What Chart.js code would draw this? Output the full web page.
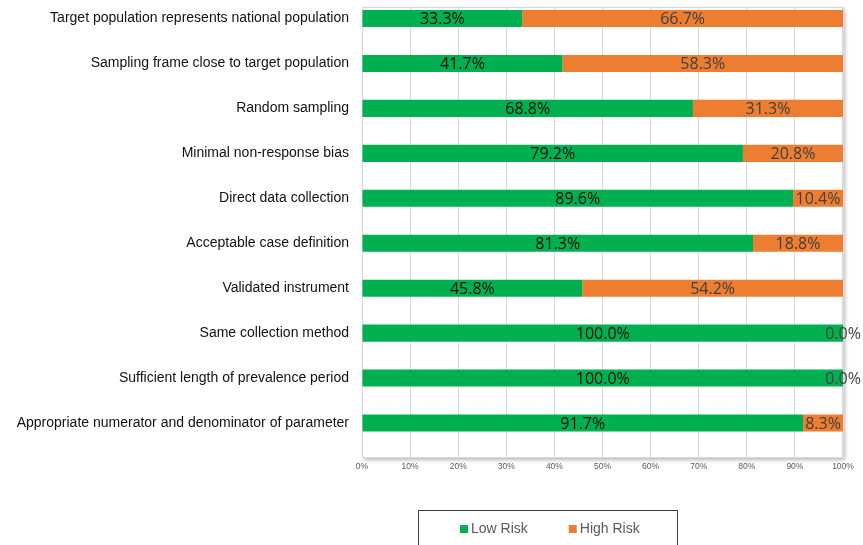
<!DOCTYPE html>
<html>
<head>
<meta charset="utf-8">
<script src="https://cdn.jsdelivr.net/npm/chart.js@4/dist/chart.umd.min.js"></script>
<style>
  html, body { margin: 0; padding: 0; background: #fff; }
  #wrap { width: 863px; height: 545px; }
</style>
</head>
<body>
<div id="wrap"><canvas id="c" width="863" height="545"></canvas></div>
<script>
// Quality criteria assessed across the included studies
const categories = [
  "Target population represents national population",
  "Sampling frame close to target population",
  "Random sampling",
  "Minimal non-response bias",
  "Direct data collection",
  "Acceptable case definition",
  "Validated instrument",
  "Same collection method",
  "Sufficient length of prevalence period",
  "Appropriate numerator and denominator of parameter"
];
// Share of studies (%) rated low / high risk of bias
const lowRisk  = [33.3, 41.7, 68.8, 79.2, 89.6, 81.3, 45.8, 100.0, 100.0, 91.7];
const highRisk = [66.7, 58.3, 31.3, 20.8, 10.4, 18.8, 54.2, 0.0, 0.0, 8.3];
const seriesNames = ["Low Risk", "High Risk"];
const xTickValues = [0, 10, 20, 30, 40, 50, 60, 70, 80, 90, 100];

const GREEN = "#00B050";
const ORANGE = "#ED7D31";

// White plot panel with a soft drop shadow behind the bars
const plotPanel = {
  id: "plotPanel",
  beforeDraw(chart) {
    const { ctx, chartArea: a } = chart;
    ctx.save();
    ctx.shadowColor = "rgba(0,0,0,0.28)";
    ctx.shadowBlur = 4;
    ctx.shadowOffsetX = 1.5;
    ctx.shadowOffsetY = 1.5;
    ctx.fillStyle = "#fff";
    ctx.fillRect(a.left, a.top, a.right - a.left, a.bottom - a.top);
    ctx.restore();
    ctx.save();
    ctx.strokeStyle = "#d9d9d9";
    ctx.lineWidth = 1;
    ctx.strokeRect(a.left + 0.5, a.top + 0.5, a.right - a.left - 1, a.bottom - a.top - 1);
    ctx.restore();
  }
};

// Percentage labels centred on every bar segment
const segmentLabels = {
  id: "segmentLabels",
  afterDatasetsDraw(chart) {
    const { ctx } = chart;
    ctx.save();
    ctx.font = '16px "Open Sans", sans-serif';
    ctx.textAlign = "center";
    ctx.textBaseline = "middle";
    chart.data.datasets.forEach((ds, di) => {
      const meta = chart.getDatasetMeta(di);
      ctx.fillStyle = di === 0 ? "#0d0d0d" : "#404040";
      meta.data.forEach((bar, i) => {
        const p = bar.getProps(["x", "y", "base"], true);
        const cx = (Math.min(p.x, chart.chartArea.right) + Math.min(p.base, chart.chartArea.right)) / 2;
        ctx.fillText(ds.data[i].x.toFixed(1) + "%", cx, p.y + 1);
      });
    });
    ctx.restore();
  }
};

// Boxed legend below the axis
const boxedLegend = {
  id: "boxedLegend",
  afterDraw(chart) {
    const { ctx } = chart;
    ctx.save();
    ctx.strokeStyle = "#3f3f3f";
    ctx.lineWidth = 1;
    ctx.strokeRect(418.5, 510.5, 259, 45);
    ctx.font = '14px "Liberation Sans", Arial, sans-serif';
    ctx.textBaseline = "middle";
    let x = 460;
    const y = 529;
    chart.data.datasets.forEach((ds) => {
      ctx.fillStyle = ds.backgroundColor;
      ctx.fillRect(x, y - 4, 8, 8);
      ctx.fillStyle = "#595959";
      ctx.fillText(ds.label, x + 11, y + 0.5);
      x += 11 + ctx.measureText(ds.label).width + 41;
    });
    ctx.restore();
  }
};

new Chart(document.getElementById("c"), {
  type: "bar",
  data: {
    datasets: [
      {
        label: seriesNames[0],
        data: lowRisk.map((v, i) => ({ x: v, y: i })),
        backgroundColor: GREEN,
        categoryPercentage: 1,
        barPercentage: 0.38
      },
      {
        label: seriesNames[1],
        data: highRisk.map((v, i) => ({ x: v, y: i })),
        backgroundColor: ORANGE,
        categoryPercentage: 1,
        barPercentage: 0.38
      }
    ]
  },
  options: {
    indexAxis: "y",
    responsive: false,
    animation: false,
    devicePixelRatio: 1,
    layout: { padding: { top: 7, right: 20, left: 0, bottom: 0 } },
    plugins: {
      legend: { display: false },
      tooltip: { enabled: false }
    },
    scales: {
      x: {
        type: "linear",
        stacked: true,
        min: 0,
        max: 100,
        afterBuildTicks(scale) {
          scale.ticks = xTickValues.map(v => ({ value: v }));
        },
        afterFit(scale) {
          scale.height = 87;
          scale.paddingLeft = 0;
          scale.paddingRight = 0;
        },
        ticks: {
          padding: 4,
          color: "#595959",
          font: { family: '"Liberation Sans", Arial, sans-serif', size: 8.5 },
          callback: v => v + "%"
        },
        grid: { color: "#d9d9d9", lineWidth: 1, drawTicks: false },
        border: { display: false }
      },
      y: {
        type: "linear",
        stacked: true,
        reverse: true,
        offset: false,
        min: -0.256,
        max: 9.778,
        afterBuildTicks(scale) {
          scale.ticks = categories.map((_, i) => ({ value: i }));
        },
        afterFit(scale) {
          scale.width = 362;
          scale.paddingTop = 0;
          scale.paddingBottom = 0;
        },
        ticks: {
          padding: 13,
          autoSkip: false,
          color: "#111",
          font: { family: '"Liberation Sans", Arial, sans-serif', size: 14 },
          callback: v => categories[v]
        },
        grid: { display: false, drawTicks: false, offset: false },
        border: { display: false }
      }
    }
  },
  plugins: [plotPanel, segmentLabels, boxedLegend]
});
</script>
</body>
</html>
